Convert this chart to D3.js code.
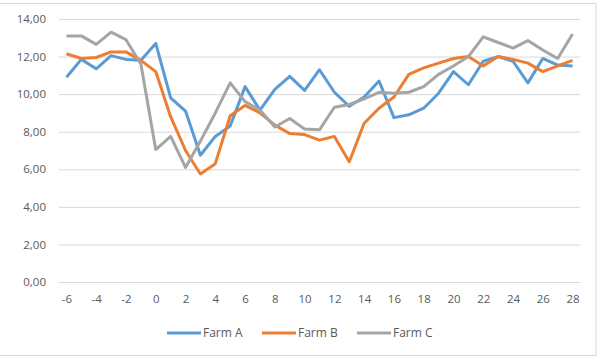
<html>
<head>
	<title>Farm chart</title>
	<style type="text/css">
		body{
			margin: 0;
			background-color: #fff;
		}
		.grid line{
			stroke: #d9d9d9;
			stroke-width: 1px;
		}
		.axis text{
			fill: #595959;
			font-family: 'Open Sans', sans-serif;
			font-size: 11.5px;
		}
		.legend text{
			fill: #595959;
			font-family: 'Open Sans', sans-serif;
			font-size: 12px;
		}
		.series{
			fill: none;
			stroke-width: 3px;
			stroke-linejoin: round;
		}
	</style>
	<script type="text/javascript" src="https://d3js.org/d3.v7.min.js"></script>
</head>
<body>
	<div id="chart"></div>

	<script type="text/javascript">
		var xCats = [-6, -5, -4, -3, -2, -1, 0, 1, 2, 3, 4, 5, 6, 7, 8, 9, 10, 11, 12, 13, 14, 15, 16, 17, 18, 19, 20, 21, 22, 23, 24, 25, 26, 27, 28];
		var xTicks = [-6, -4, -2, 0, 2, 4, 6, 8, 10, 12, 14, 16, 18, 20, 22, 24, 26, 28];
		var yTicks = [0, 2, 4, 6, 8, 10, 12, 14];
		var seriesNames = ['Farm A', 'Farm B', 'Farm C'];
		var seriesColors = ['#5b9bd5', '#ed7d31', '#a5a5a5'];

		var farmA = [10.9, 11.85, 11.35, 12.05, 11.85, 11.8, 12.7, 9.8, 9.1, 6.75, 7.75, 8.3, 10.4, 9.15, 10.25, 10.95, 10.2, 11.3, 10.1, 9.35, 9.85, 10.7, 8.75, 8.9, 9.25, 10.05, 11.2, 10.5, 11.75, 12.0, 11.75, 10.6, 11.9, 11.55, 11.5];
		var farmB = [12.15, 11.9, 11.95, 12.25, 12.25, 11.8, 11.2, 8.8, 7.0, 5.75, 6.3, 8.85, 9.4, 9.0, 8.35, 7.9, 7.85, 7.55, 7.75, 6.4, 8.45, 9.25, 9.85, 11.05, 11.4, 11.65, 11.9, 12.0, 11.5, 12.0, 11.85, 11.65, 11.2, 11.5, 11.8];
		var farmC = [13.1, 13.1, 12.65, 13.3, 12.9, 11.6, 7.05, 7.75, 6.1, 7.5, 9.0, 10.6, 9.6, 9.15, 8.25, 8.7, 8.15, 8.1, 9.3, 9.45, 9.75, 10.1, 10.05, 10.1, 10.4, 11.05, 11.5, 12.0, 13.05, 12.75, 12.45, 12.85, 12.35, 11.9, 13.2];

		var allSeries = [farmA, farmB, farmC];
		var width = 600, height = 361;

		var svg = d3.select('#chart')
			.append('svg')
			.attr('width', width)
			.attr('height', height);

		// light frame of the chart area
		svg.append('rect')
			.attr('x', -1)
			.attr('y', 3.5)
			.attr('width', 597)
			.attr('height', 352)
			.attr('fill', '#fff')
			.attr('stroke', '#d9d9d9');

		var xScale = d3.scalePoint()
			.domain(xCats)
			.range([59, 580])
			.padding(0.5);

		var yScale = d3.scaleLinear()
			.domain([0, 14])
			.range([282, 19]);

		var comma = d3.formatLocale({decimal: ',', thousands: '.', grouping: [3], currency: ['', '']}).format('.2f');

		var yAxis = d3.axisLeft(yScale)
			.tickValues(yTicks)
			.tickSize(-(580 - 59))
			.tickPadding(13)
			.tickFormat(comma);

		var yAxisG = svg.append('g')
			.attr('class', 'axis grid')
			.attr('transform', 'translate(59,0)')
			.call(yAxis);
		yAxisG.select('.domain').remove();

		var xAxis = d3.axisBottom(xScale)
			.tickValues(xTicks)
			.tickSize(0)
			.tickPadding(13);

		var xAxisG = svg.append('g')
			.attr('class', 'axis')
			.attr('transform', 'translate(0,282)')
			.call(xAxis);
		xAxisG.select('.domain').remove();

		var line = d3.line()
			.x(function(d, i){ return xScale(xCats[i]); })
			.y(function(d){ return yScale(d); });

		svg.selectAll('.series')
			.data(allSeries)
			.enter()
			.append('path')
			.attr('class', 'series')
			.attr('stroke', function(d, i){ return seriesColors[i]; })
			.attr('d', line);

		// legend along the bottom
		var legendX = [167, 262, 357];
		var legend = svg.selectAll('.legend')
			.data(seriesNames)
			.enter()
			.append('g')
			.attr('class', 'legend')
			.attr('transform', function(d, i){ return 'translate(' + legendX[i] + ',333)'; });

		legend.append('line')
			.attr('x1', 0)
			.attr('x2', 34)
			.attr('stroke', function(d, i){ return seriesColors[i]; })
			.attr('stroke-width', 3);

		legend.append('text')
			.attr('x', 36)
			.attr('dy', '0.35em')
			.text(function(d){ return d; });
	</script>
</body>
</html>
